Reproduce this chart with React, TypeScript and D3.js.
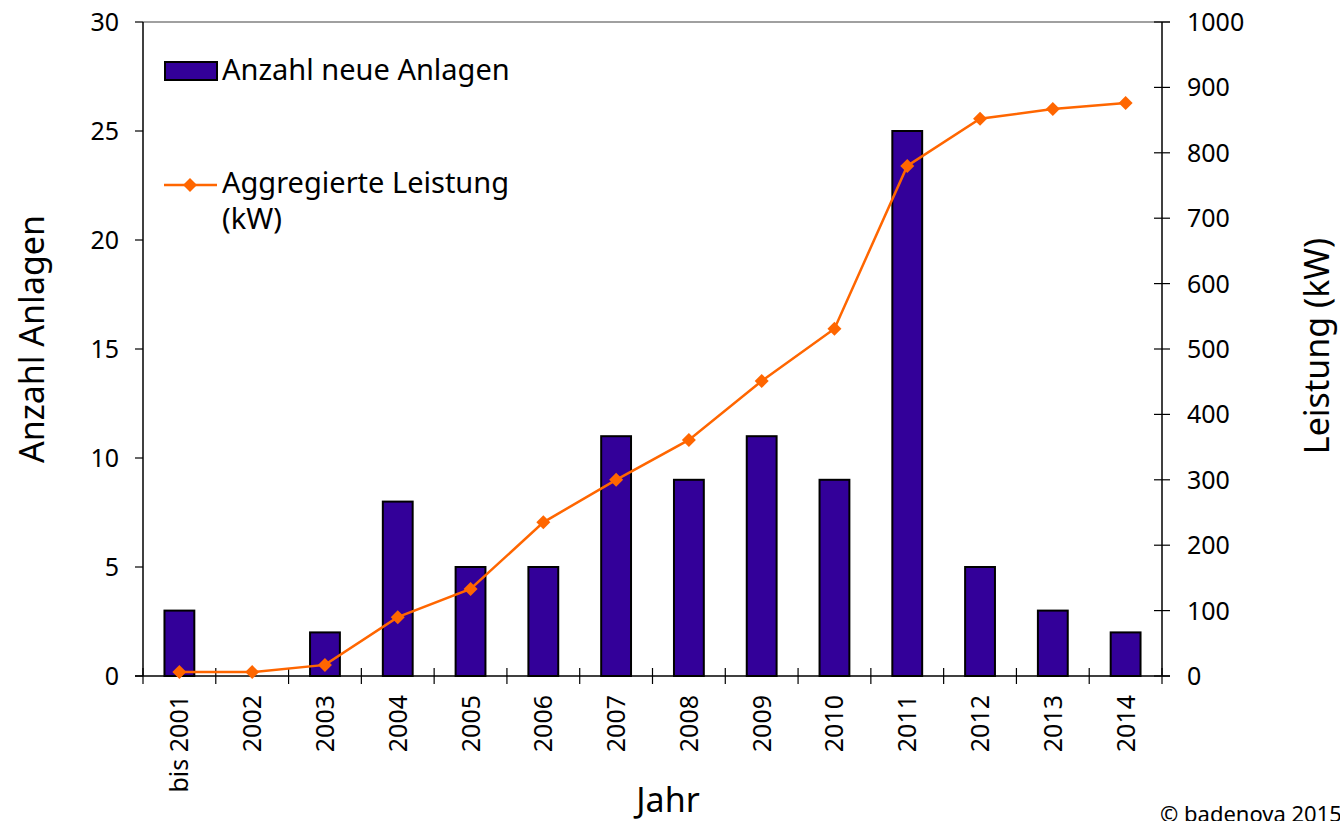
import * as d3 from "d3";

const years = ["bis 2001", "2002", "2003", "2004", "2005", "2006", "2007", "2008", "2009", "2010", "2011", "2012", "2013", "2014"];
const neueAnlagen = [3, 0, 2, 8, 5, 5, 11, 9, 11, 9, 25, 5, 3, 2];
const leistungKW = [6, 6, 17, 90, 133, 235, 300, 361, 451, 531, 780, 852, 867, 876];
const leftTicks = [0, 5, 10, 15, 20, 25, 30];
const rightTicks = [0, 100, 200, 300, 400, 500, 600, 700, 800, 900, 1000];

const font = "'Noto Sans', sans-serif";
const barColor = "#330099";
const lineColor = "#FF6600";

export default function App() {
  const width = 1340;
  const height = 821;
  const left = 143;
  const right = 1162;
  const top = 22;
  const bottom = 676;

  const x = d3.scaleBand<string>().domain(years).range([left, right]).paddingInner(0.59).paddingOuter(0.295);
  const band = d3.scaleBand<string>().domain(years).range([left, right]);
  const yL = d3.scaleLinear().domain([0, 30]).range([bottom, top]);
  const yR = d3.scaleLinear().domain([0, 1000]).range([bottom, top]);

  const line = d3.line<number>()
    .x((_, i) => band(years[i])! + band.bandwidth() / 2)
    .y(d => yR(d));

  const diamond = (cx: number, cy: number, r: number) =>
    `M${cx},${cy - r}L${cx + r},${cy}L${cx},${cy + r}L${cx - r},${cy}Z`;

  return (
    <svg width={width} height={height} style={{ position: "absolute", left: 0, top: 0 }} fontFamily={font}>
      {/* top border */}
      <line x1={left} x2={right + 8} y1={top} y2={top} stroke="#808080" strokeWidth={1.5} />

      {/* bars */}
      {years.map((yr, i) =>
        neueAnlagen[i] > 0 ? (
          <rect key={yr} x={x(yr)} y={yL(neueAnlagen[i])} width={x.bandwidth()} height={bottom - yL(neueAnlagen[i])}
            fill={barColor} stroke="#000" strokeWidth={2} />
        ) : null
      )}

      {/* left axis */}
      <line x1={left} x2={left} y1={top} y2={bottom} stroke="#000" strokeWidth={1.5} />
      {leftTicks.map(t => (
        <g key={t}>
          <line x1={left - 8} x2={left} y1={yL(t)} y2={yL(t)} stroke="#000" strokeWidth={1.2} />
          <text x={left - 24} y={yL(t)} dy="0.36em" textAnchor="end" fontSize={25}>{t}</text>
        </g>
      ))}

      {/* right axis */}
      <line x1={right} x2={right} y1={top} y2={bottom} stroke="#000" strokeWidth={1.5} />
      {rightTicks.map(t => (
        <g key={t}>
          <line x1={right - 8} x2={right + 8} y1={yR(t)} y2={yR(t)} stroke="#000" strokeWidth={1.2} />
          <text x={right + 25} y={yR(t)} dy="0.36em" textAnchor="start" fontSize={25}>{t}</text>
        </g>
      ))}

      {/* x axis */}
      <line x1={left - 8} x2={right + 8} y1={bottom} y2={bottom} stroke="#000" strokeWidth={1.5} />
      {years.map(yr => (
        <line key={"t" + yr} x1={band(yr)} x2={band(yr)} y1={bottom - 8} y2={bottom + 8} stroke="#000" strokeWidth={1.2} />
      ))}
      <line x1={right} x2={right} y1={bottom - 8} y2={bottom + 8} stroke="#000" strokeWidth={1.2} />
      {years.map(yr => {
        const cx = band(yr)! + band.bandwidth() / 2;
        return (
          <text key={"l" + yr} transform={`translate(${cx},${bottom + 19}) rotate(-90)`} textAnchor="end" dy="0.36em" fontSize={25}>{yr}</text>
        );
      })}

      {/* line series */}
      <path d={line(leistungKW)!} fill="none" stroke={lineColor} strokeWidth={2.5} />
      {leistungKW.map((v, i) => (
        <path key={"m" + i} d={diamond(band(years[i])! + band.bandwidth() / 2, yR(v), 7)} fill={lineColor} />
      ))}

      {/* axis titles */}
      <text transform={`translate(44,339) rotate(-90)`} textAnchor="middle" fontSize={34}>Anzahl Anlagen</text>
      <text transform={`translate(1329,346) rotate(-90)`} textAnchor="middle" fontSize={34}>Leistung (kW)</text>
      <text x={668} y={812} textAnchor="middle" fontSize={34}>Jahr</text>

      {/* legend */}
      <rect x={165} y={62} width={52} height={18} fill={barColor} stroke="#000" strokeWidth={2} />
      <text x={222} y={80} fontSize={29}>Anzahl neue Anlagen</text>
      <line x1={164} x2={217} y1={185} y2={185} stroke={lineColor} strokeWidth={2.5} />
      <path d={diamond(190, 185, 7)} fill={lineColor} />
      <text x={222} y={193} fontSize={29}>Aggregierte Leistung</text>
      <text x={222} y={229} fontSize={29}>(kW)</text>

      <text x={1160} y={822} fontSize={22}>© badenova 2015</text>
    </svg>
  );
}
